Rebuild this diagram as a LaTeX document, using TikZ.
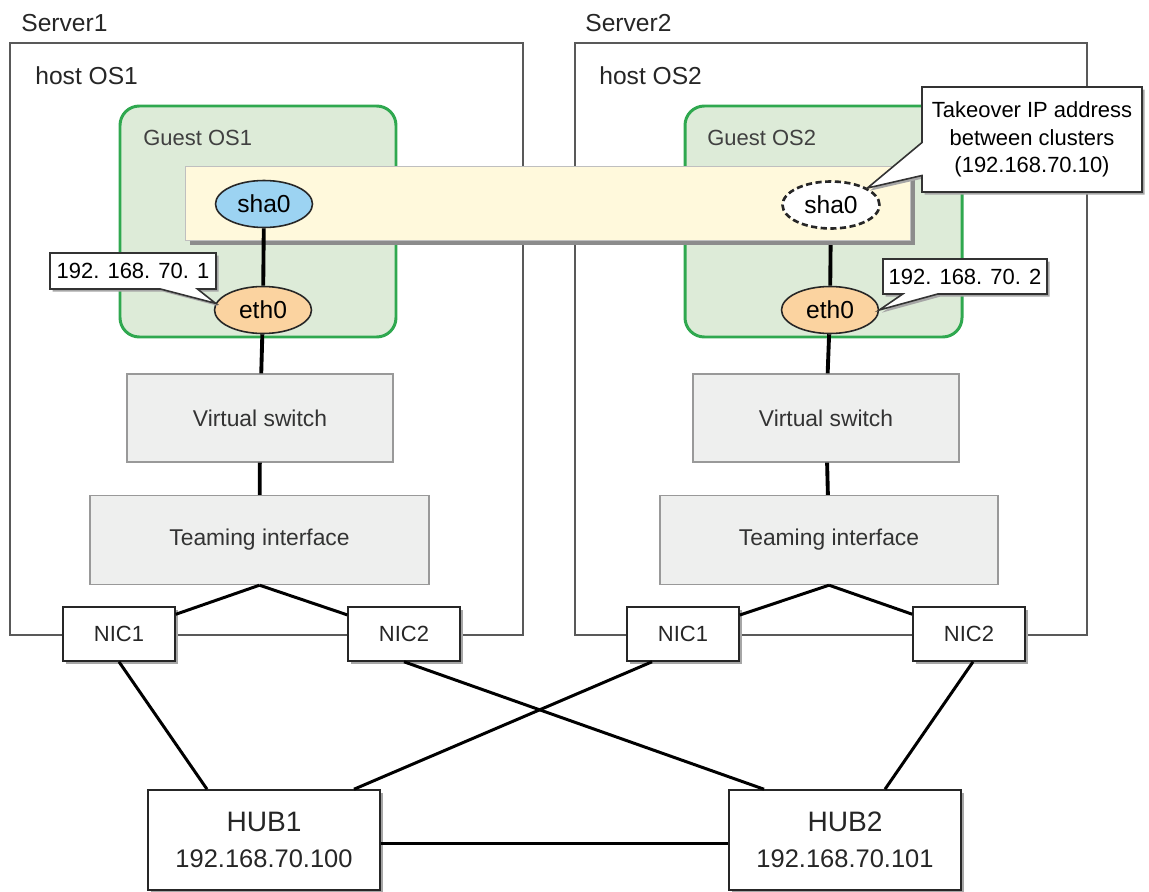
\documentclass[tikz,border=0pt]{standalone}
\usepackage{fontspec}
\setmainfont{Liberation Sans}
\usetikzlibrary{positioning, shapes.geometric, shapes.callouts, shadows, calc}
\definecolor{guestfill}{HTML}{DDEBD8}
\definecolor{guestline}{HTML}{2FA84F}
\definecolor{bandfill}{HTML}{FFF9DC}
\definecolor{shafill}{HTML}{9CD3F2}
\definecolor{ethfill}{HTML}{FBD3A0}
\definecolor{boxfill}{HTML}{EEEFEE}

\begin{document}
\begin{tikzpicture}[x=0.02cm, y=-0.02cm,
			font=\fontsize{13}{15}\selectfont,
			frame/.style={draw=black!65, line width=1pt},
			guest/.style={draw=guestline, line width=1.7pt, fill=guestfill, rounded corners=11pt},
			title/.style={anchor=west, inner sep=0pt, font=\fontsize{14}{16}\selectfont, text=black!85},
			gtitle/.style={anchor=west, inner sep=0pt, font=\fontsize{12.5}{15}\selectfont, text=black!75},
			band/.style={draw=black!25, fill=bandfill, minimum width=14.5cm, minimum height=1.48cm,
				general shadow={fill=black!45, shadow xshift=3pt, shadow yshift=-3pt}},
			port/.style={ellipse, draw=black!85, line width=0.9pt, minimum width=1.94cm, minimum height=0.94cm,
				inner sep=0pt, font=\fontsize{14}{16}\selectfont},
			sw/.style={draw=black!40, fill=boxfill, line width=0.8pt, text=black!80},
			nic/.style={draw=black!85, fill=white, line width=0.9pt, minimum width=2.24cm, minimum height=1.08cm,
				font=\fontsize{12.5}{15}\selectfont, text=black!85,
				general shadow={fill=black!35, shadow xshift=1.5pt, shadow yshift=-1.5pt}},
			hub/.style={nic, minimum width=4.64cm, minimum height=2cm, align=center,
				font=\fontsize{14.5}{20.4}\selectfont},
			note/.style={rectangle callout, draw=black!80, fill=white, line width=0.9pt, align=center,
				inner sep=2pt, font=\fontsize{12.5}{15.6}\selectfont,
				general shadow={fill=black!35, shadow xshift=1.5pt, shadow yshift=-1.5pt}},
			wire/.style={line width=2.2pt},
			link/.style={line width=1.7pt}
			]
			\useasboundingbox (0,0) rectangle (1149,892);
			% servers and guests
			\draw[frame] (10,43) rectangle (523,635);
			\draw[frame] (575,43) rectangle (1087,635);
			\node[title] (srv1) at (21,23) {Server1};
			\node[title] (srv2) at (585,23) {Server2};
			\node[title] (host1) at (35,76) {host OS1};
			\node[title] (host2) at (599,76) {host OS2};
			\draw[guest] (120,106) rectangle (396,337);
			\draw[guest] (685,106) rectangle (962,337);
			\node[gtitle] (gos1) at (143,138) {Guest OS1};
			\node[gtitle] (gos2) at (707,138) {Guest OS2};
			% interfaces
			\node[port, fill=ethfill] (ethL) at (263,310) {eth0};
			\node[port, fill=ethfill] (ethR) at (830,310) {eth0};
			\node[sw, minimum width=5.32cm, minimum height=1.76cm] (vswL) at (260,418) {Virtual switch};
			\node[sw, minimum width=5.32cm, minimum height=1.76cm] (vswR) at (826,418) {Virtual switch};
			\node[sw, minimum width=6.78cm, minimum height=1.78cm] (teamL) at (259.5,540) {Teaming interface};
			\node[sw, minimum width=6.76cm, minimum height=1.78cm] (teamR) at (829,540) {Teaming interface};
			\coordinate (shaRc) at (831,205);
			\draw[wire] (shaRc) -- (ethR);
			\node[band] (band) at (547.5,203) {};
			\node[port, fill=shafill] (shaL) at (264,204) {sha0};
			\node[port, fill=white, line width=1.5pt, dash pattern=on 3.5pt off 2pt] (shaR) at (shaRc) {sha0};
			\draw[wire] (shaL) -- (ethL);
			\draw[wire] (ethL) -- (vswL);
			\draw[wire] (vswL) -- (teamL);
			\draw[wire] (ethR) -- (vswR);
			\draw[wire] (vswR) -- (teamR);
			% NICs and hubs
			\node[nic] (nicA1) at (119,634) {NIC1};
			\node[nic] (nicA2) at (404,634) {NIC2};
			\node[nic] (nicB1) at (683,634) {NIC1};
			\node[nic] (nicB2) at (969,634) {NIC2};
			\foreach \t/\n in {teamL/nicA1,teamL/nicA2,teamR/nicB1,teamR/nicB2} {\draw[link] (\t.south) -- (\n);}
			\node[hub] (hub1) at (264,840) {{\fontsize{16}{20.4}\selectfont HUB1}\\192.168.70.100};
			\node[hub] (hub2) at (845,840) {{\fontsize{16}{20.4}\selectfont HUB2}\\192.168.70.101};
			\draw[link] (nicA1.south) -- ($(hub1.north)+(-57,0)$);
			\draw[link] (nicA2.south) -- ($(hub2.north)+(-81,0)$);
			\draw[link] ($(nicB1.south)+(-31,0)$) -- ($(hub1.north)+(90,0)$);
			\draw[link] ($(nicB2.south)+(4,0)$) -- ($(hub2.north)+(40,0)$);
			\draw[link] ($(hub1.east)+(0,3)$) -- ($(hub2.west)+(0,3)$);
			% address notes
			\node[note, minimum width=3.32cm, minimum height=0.72cm, callout pointer width=0.74cm,
				callout absolute pointer={(ethL.172)}] (ip1) at (133,271) {192. 168. 70. 1};
			\node[note, minimum width=3.28cm, minimum height=0.7cm, callout pointer width=0.7cm,
				callout absolute pointer={(ethR.east)}] (ip2) at (965,276.5) {192. 168. 70. 2};
			\node[note, minimum width=4.4cm, minimum height=2.1cm, callout pointer width=0.66cm,
				callout absolute pointer={(shaR.25)}] (tko) at (1032,139.5) {Takeover IP address\\between clusters\\(192.168.70.10)};
		\end{tikzpicture}
\end{document}
